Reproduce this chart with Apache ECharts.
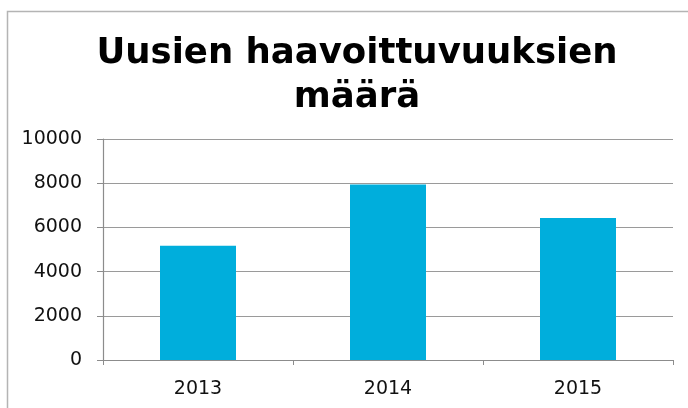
<!DOCTYPE html>
<html>
<head>
<meta charset="utf-8">
<script src="https://cdn.jsdelivr.net/npm/echarts@6/dist/echarts.min.js"></script>
<style>
  html, body { margin: 0; padding: 0; background: #fff; }
  #chart { width: 688px; height: 408px; }
</style>
</head>
<body>
<div id="chart"></div>
<script>
// uusien haavoittuvuuksien määrä vuosittain
var years = ['2013', '2014', '2015'];
var counts = [5170, 7940, 6430];
var yTicks = { min: 0, max: 10000, interval: 2000 };

var chart = echarts.init(document.getElementById('chart'));
chart.setOption({
  animation: false,
  title: {
    text: 'Uusien haavoittuvuuksien\nmäärä',
    left: 352,
    top: 27,
    textAlign: 'center',
    textStyle: {
      fontFamily: 'DejaVu Sans',
      fontWeight: 'bold',
      fontSize: 35.5,
      lineHeight: 44,
      color: '#000'
    }
  },
  graphic: [{
    type: 'rect',
    shape: { x: 7.5, y: 11.5, width: 720, height: 440 },
    style: { fill: 'none', stroke: '#b4b4b4', lineWidth: 1.5 },
    silent: true
  }],
  grid: { left: 103, right: 15, top: 139, bottom: 48 },
  xAxis: {
    type: 'category',
    data: years,
    axisLine: { lineStyle: { color: '#8c8c8c', width: 1.2 } },
    axisTick: { show: true, length: 5, alignWithLabel: false, lineStyle: { color: '#8c8c8c' } },
    axisLabel: { margin: 20, fontFamily: 'DejaVu Sans', fontSize: 19, color: '#111' }
  },
  yAxis: {
    type: 'value',
    min: yTicks.min,
    max: yTicks.max,
    interval: yTicks.interval,
    axisLine: { show: true, lineStyle: { color: '#8c8c8c', width: 1.2 } },
    axisTick: { show: true, length: 6, lineStyle: { color: '#8c8c8c' } },
    splitLine: { lineStyle: { color: '#9a9a9a', width: 1.2 } },
    axisLabel: {
      margin: 21, fontFamily: 'DejaVu Sans', fontSize: 19, color: '#111',
      formatter: function (v) { return String(v); }
    }
  },
  series: [{
    type: 'bar',
    data: counts,
    barWidth: '40%',
    itemStyle: { color: '#00aedc' }
  }]
});
</script>
</body>
</html>
